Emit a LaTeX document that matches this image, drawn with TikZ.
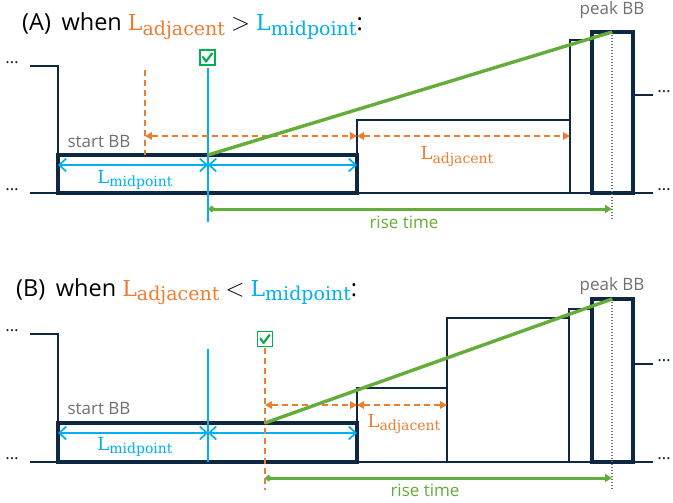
\documentclass[tikz,border=0pt]{standalone}
\usepackage{fontspec}
\setsansfont{Open Sans}
\newfontfamily\seriffont{DejaVu Serif}
\usepackage{xcolor}
\definecolor{bbnavy}{RGB}{14,40,65}
\definecolor{lenorange}{RGB}{237,125,49}
\definecolor{midblue}{RGB}{0,176,240}
\definecolor{risegreen}{RGB}{102,172,58}
\definecolor{checkgreen}{RGB}{0,176,80}
\definecolor{labelgray}{RGB}{112,112,112}
\usetikzlibrary{arrows.meta}
\newcommand{\Lname}[3]{{\seriffont\fontsize{#2}{#2}\selectfont L\raisebox{-0.22em}{\fontsize{#3}{#3}\selectfont #1}}}
\newcommand{\titlefont}{\sffamily\fontsize{23.5}{27}\selectfont}
\tikzset{
    bbthick/.style={draw=bbnavy, line width=3.8pt},
    bbthin/.style={draw=bbnavy, line width=1.5pt},
    midline/.style={midblue, line width=1.7pt},
    midarrow/.style={midline, {Straight Barb[length=7pt,width=13pt]}-{Straight Barb[length=7pt,width=13pt]}},
    adjline/.style={lenorange, line width=1.6pt, dash pattern=on 6pt off 4pt},
    adjarrow/.style={adjline, {Triangle[length=7pt,width=7.5pt]}-{Triangle[length=7pt,width=7.5pt]}},
    riseline/.style={risegreen, line width=3.4pt},
    risearrow/.style={risegreen, line width=3pt, {Diamond[length=7pt,width=7pt]}-{Triangle[length=7pt,width=8pt]}},
    peakline/.style={labelgray, line width=1.3pt, dash pattern=on 1.3pt off 1.7pt},
    checkbox/.style={draw=checkgreen, line width=1.3pt, minimum size=15pt, inner sep=0pt,
        path picture={
            \draw[checkgreen, line width=2.2pt, line cap=round, line join=round]
                ([shift={(3pt,0.5pt)}]path picture bounding box.west)
                -- ([shift={(-1.5pt,-4pt)}]path picture bounding box.center)
                -- ([shift={(-3pt,-3.5pt)}]path picture bounding box.north east);
        }
    },
    bblabel/.style={anchor=base, text=labelgray, font=\sffamily\fontsize{17}{17}\selectfont},
    riselabel/.style={anchor=base, text=risegreen, font=\sffamily\fontsize{17}{17}\selectfont},
    lenlabel/.style={anchor=base, inner sep=0pt},
    dots/.style={text=bbnavy, font=\sffamily\fontsize{17}{17}\selectfont, inner sep=0pt},
    title/.style={anchor=base west, inner sep=0pt, font=\titlefont}
}

\begin{document}
\begin{tikzpicture}[x=1pt, y=-1pt]
      \useasboundingbox (0,0) rectangle (673,503);

      % (A) adjacent block longer than midpoint
      \node[title] (title-a) at (22,31) {(A)\hspace{0.45em}when \textcolor{lenorange}{\Lname{adjacent}{22}{19}} $>$ \textcolor{midblue}{\Lname{midpoint}{22}{19}}:};

      \path
          (30,66) coordinate (a-in-top)
          (58,66) coordinate (a-corner)
          (30,193) coordinate (a-in-bottom)
          (58,155) coordinate (a-start-nw)
          (357,193) coordinate (a-start-se)
          (357,120) coordinate (a-adj-nw)
          (570,193) coordinate (a-adj-se)
          (570,40) coordinate (a-next-nw)
          (592,193) coordinate (a-next-se)
          (592,32) coordinate (a-peak-nw)
          (633,193) coordinate (a-peak-se)
          (633,95) coordinate (a-out-top)
          (653,95) coordinate (a-out-top-end)
          (653,193) coordinate (a-out-bottom-end)
          (612,32) coordinate (a-peak-top)
          (612,220) coordinate (a-peak-end)
          (208,155) coordinate (a-mid)
          (208,68) coordinate (a-mid-top)
          (208,222) coordinate (a-mid-end);

      \node[dots] (a-dots-top) at (12,63) {…};
      \node[dots] (a-dots-bottom) at (12,190) {…};
      \node[dots] (a-dots-out-top) at (664,92) {…};
      \node[dots] (a-dots-out-bottom) at (664,190) {…};

      \draw[bbthin] (a-in-top) -- (a-corner) -- (a-start-nw);
      \draw[bbthin] (a-in-bottom) -- (a-start-nw |- a-in-bottom);
      \draw[bbthin] (a-adj-nw) rectangle (a-adj-se);
      \draw[bbthin] (a-next-nw) rectangle (a-next-se);
      \draw[bbthin] (a-out-top) -- (a-out-top-end);
      \draw[bbthin] (a-peak-se) -- (a-out-bottom-end);
      \draw[bbthick] (a-start-nw) rectangle (a-start-se);
      \draw[bbthick] (a-peak-nw) rectangle (a-peak-se);

      \node[bblabel] (a-start-label) at (99,148) {start BB};
      \node[bblabel] (a-peak-label) at (612,15) {peak BB};

      \draw[peakline] (a-peak-top) -- (a-peak-end);
      \draw[midline] (a-mid-top) -- (a-mid-end);
      \node[checkbox] (a-check) at (207.5,57.5) {};

      \draw[midarrow] (58,165) coordinate (a-ml) -- (208,165) coordinate (a-mm);
      \draw[midarrow] (a-mm) -- (357,165) coordinate (a-mr);
      \node[lenlabel] (a-mid-label) at (135,183) {\textcolor{midblue}{\Lname{midpoint}{18}{14}}};

      \draw[adjline] (145,70) coordinate (a-adj-top) -- (145,155) coordinate (a-adj-bottom);
      \draw[adjarrow] (145,136) coordinate (a-al) -- (357,136) coordinate (a-am);
      \draw[adjarrow] (a-am) -- (570,136) coordinate (a-ar);
      \node[lenlabel] (a-adj-label) at (457,160) {\textcolor{lenorange}{\Lname{adjacent}{18}{14}}};

      \draw[riseline] (a-mid) -- (a-peak-top);
      \draw[risearrow] (208,209) coordinate (a-rise-start) -- (612,209) coordinate (a-rise-end);
      \node[riselabel] (a-rise-label) at (404,228) {rise time};

      % (B) adjacent block shorter than midpoint
      \node[title] (title-b) at (16,296) {(B)\hspace{0.45em}when \textcolor{lenorange}{\Lname{adjacent}{22}{19}} $<$ \textcolor{midblue}{\Lname{midpoint}{22}{19}}:};

      \path
          (30,334) coordinate (b-in-top)
          (58,334) coordinate (b-corner)
          (30,462) coordinate (b-in-bottom)
          (58,423) coordinate (b-start-nw)
          (357,462) coordinate (b-start-se)
          (357,388) coordinate (b-adj-nw)
          (447,462) coordinate (b-adj-se)
          (447,318) coordinate (b-next-nw)
          (569,462) coordinate (b-next-se)
          (569,309) coordinate (b-last-nw)
          (592,462) coordinate (b-last-se)
          (592,299) coordinate (b-peak-nw)
          (633,462) coordinate (b-peak-se)
          (633,364) coordinate (b-out-top)
          (653,364) coordinate (b-out-top-end)
          (653,462) coordinate (b-out-bottom-end)
          (612,299) coordinate (b-peak-top)
          (612,489) coordinate (b-peak-end)
          (208,349) coordinate (b-mid-top)
          (208,462) coordinate (b-mid-end)
          (265,423) coordinate (b-adj-start)
          (265,348) coordinate (b-adj-top)
          (265,490) coordinate (b-adj-end);

      \node[dots] (b-dots-top) at (12,331) {…};
      \node[dots] (b-dots-bottom) at (12,459) {…};
      \node[dots] (b-dots-out-top) at (664,361) {…};
      \node[dots] (b-dots-out-bottom) at (664,459) {…};

      \draw[bbthin] (b-in-top) -- (b-corner) -- (b-start-nw);
      \draw[bbthin] (b-in-bottom) -- (b-start-nw |- b-in-bottom);
      \draw[bbthin] (b-adj-nw) rectangle (b-adj-se);
      \draw[bbthin] (b-next-nw) rectangle (b-next-se);
      \draw[bbthin] (b-last-nw) rectangle (b-last-se);
      \draw[bbthin] (b-out-top) -- (b-out-top-end);
      \draw[bbthin] (b-peak-se) -- (b-out-bottom-end);
      \draw[bbthick] (b-start-nw) rectangle (b-start-se);
      \draw[bbthick] (b-peak-nw) rectangle (b-peak-se);

      \node[bblabel] (b-start-label) at (99,414) {start BB};
      \node[bblabel] (b-peak-label) at (612,290) {peak BB};

      \draw[peakline] (b-peak-top) -- (b-peak-end);
      \draw[midline] (b-mid-top) -- (b-mid-end);

      \draw[midarrow] (58,433) coordinate (b-ml) -- (208,433) coordinate (b-mm);
      \draw[midarrow] (b-mm) -- (357,433) coordinate (b-mr);
      \node[lenlabel] (b-mid-label) at (135,450) {\textcolor{midblue}{\Lname{midpoint}{18}{14}}};

      \draw[adjline] (b-adj-top) -- (b-adj-end);
      \node[checkbox] (b-check) at (265,339) {};
      \draw[adjarrow] (265,405) coordinate (b-al) -- (357,405) coordinate (b-am);
      \draw[adjarrow] (b-am) -- (447,405) coordinate (b-ar);
      \node[lenlabel] (b-adj-label) at (404,427) {\textcolor{lenorange}{\Lname{adjacent}{18}{14}}};

      \draw[riseline] (b-adj-start) -- (b-peak-top);
      \draw[risearrow] (265,478) coordinate (b-rise-start) -- (612,478) coordinate (b-rise-end);
      \node[riselabel] (b-rise-label) at (425,496) {rise time};
\end{tikzpicture}
\end{document}
